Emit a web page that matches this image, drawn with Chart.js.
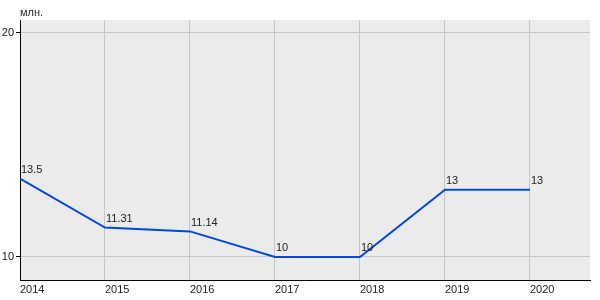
<!DOCTYPE html>
<html>
<head>
<meta charset="utf-8">
<script src="https://cdn.jsdelivr.net/npm/chart.js@4/dist/chart.umd.min.js"></script>
<style>
  html, body { margin: 0; padding: 0; background: #fff; }
  #wrap { width: 600px; height: 300px; }
</style>
</head>
<body>
<div id="wrap"><canvas id="myLineChart"></canvas></div>
<script>
var years = [2014, 2015, 2016, 2017, 2018, 2019, 2020];
var values = [13.5, 11.31, 11.14, 10, 10, 13, 13];
var yTicks = [10, 20];
var unitLabel = "млн.";

var FONT = "'Liberation Sans', Arial, sans-serif";

// gray plot background + unit caption + point labels
var decor = {
  id: 'decor',
  beforeDraw: function (chart) {
    var a = chart.chartArea, ctx = chart.ctx;
    ctx.save();
    ctx.fillStyle = '#ebebeb';
    ctx.fillRect(a.left, a.top, a.right - a.left, a.bottom - a.top);
    ctx.restore();
  },
  afterDatasetsDraw: function (chart) {
    var ctx = chart.ctx, a = chart.chartArea;
    var meta = chart.getDatasetMeta(0);
    ctx.save();
    ctx.font = '11px ' + FONT;
    ctx.fillStyle = '#222';
    ctx.textAlign = 'left';
    ctx.textBaseline = 'bottom';
    meta.data.forEach(function (pt, i) {
      ctx.fillText(String(values[i]), pt.x + 1, pt.y - 3);
    });
    ctx.fillText(unitLabel, a.left, a.top - 2);
    ctx.restore();
  }
};

var ctx = document.getElementById("myLineChart");
var chart = new Chart(ctx, {
  type: 'line',
  data: {
    datasets: [{
      data: years.map(function (y, i) { return { x: y, y: values[i] }; }),
      borderColor: '#0048e0',
      borderWidth: 2,
      pointRadius: 0,
      tension: 0,
      fill: false
    }]
  },
  options: {
    responsive: true,
    maintainAspectRatio: false,
    animation: false,
    layout: { padding: { left: 0, top: 20, right: 10, bottom: 0 } },
    plugins: { legend: { display: false }, tooltip: { enabled: false } },
    scales: {
      x: {
        type: 'linear',
        min: 2014,
        max: 2020.706,
        afterBuildTicks: function (s) { s.ticks = years.map(function (v) { return { value: v }; }); },
        afterFit: function (s) { s.height = 20; },
        grid: { color: '#c6c6c6', drawTicks: false },
        border: { color: '#000', width: 1 },
        ticks: {
          align: 'start',
          padding: 3,
          maxRotation: 0,
          color: '#222',
          font: { family: FONT, size: 11 },
          callback: function (v) { return String(v); }
        }
      },
      y: {
        min: 8.97,
        max: 20.58,
        afterBuildTicks: function (s) { s.ticks = yTicks.map(function (v) { return { value: v }; }); },
        afterFit: function (s) { s.width = 20; },
        grid: { color: '#c6c6c6', tickLength: 4, tickColor: '#000' },
        border: { color: '#000', width: 1 },
        ticks: {
          padding: 2,
          color: '#222',
          font: { family: FONT, size: 11 },
          callback: function (v) { return String(v); }
        }
      }
    }
  },
  plugins: [decor]
});
</script>
</body>
</html>
